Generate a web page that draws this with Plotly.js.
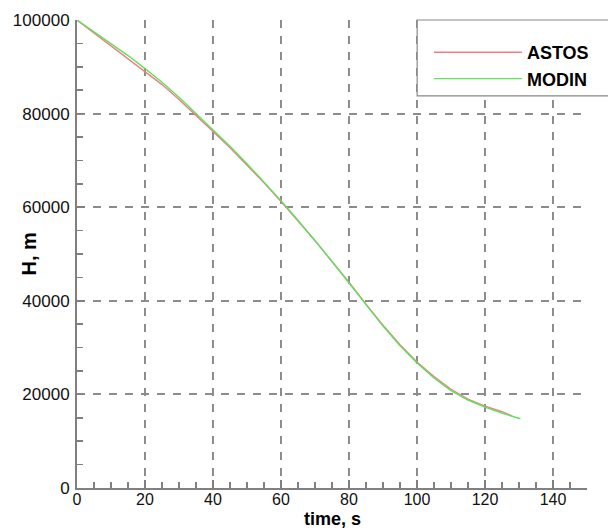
<!DOCTYPE html>
<html>
<head>
<meta charset="utf-8">
<script src="https://cdn.plot.ly/plotly-3.0.1.min.js"></script>
<style>html,body{margin:0;padding:0;background:#fff;}#chart{width:608px;height:530px;}</style>
</head>
<body>
<div id="chart"></div>
<script>
const astosTime = [0,5,10,15,20,25,30,35,40,45,50,55,60,65,70,75,80,85,90,95,100,105,110,115,120,125,128];
const astosH = [100000,97200,94500,91800,89000,86200,83000,79700,76200,72700,69000,65200,61200,57100,52900,48400,44000,39300,34800,30600,26900,23800,21100,19000,17500,16300,15400];
const modinTime = [0,5,10,15,20,25,30,35,40,45,50,55,60,65,70,75,80,85,90,95,100,105,110,115,120,125,130.4];
const modinH = [100000,97500,95000,92400,89600,86700,83500,80000,76600,73000,69300,65400,61400,57200,52900,48400,43800,39200,34600,30400,26700,23500,20800,18800,17300,16000,14800];
const xTicks = [0,20,40,60,80,100,120,140];
const yTicks = [0,20000,40000,60000,80000,100000];
const seriesNames = ['ASTOS','MODIN'];

const FONT = 'Liberation Sans, Arial, Helvetica, sans-serif';
const traces = [
  {x: astosTime, y: astosH, name: seriesNames[0], mode: 'lines', line: {color: '#f08080', width: 1.4}},
  {x: modinTime, y: modinH, name: seriesNames[1], mode: 'lines', line: {color: '#5fe05f', width: 1.4}}
];
const axisCommon = {
  showline: true, linecolor: '#808080', linewidth: 2,
  showgrid: true, gridcolor: '#8c8c8c', gridwidth: 2, griddash: '8px,8px',
  zeroline: false, ticks: 'inside', ticklen: 8, tickcolor: '#808080', tickwidth: 1.5,
  tickfont: {family: FONT, size: 17, color: '#111'}
};
const layout = {
  width: 608, height: 530,
  margin: {l: 77, r: 21, t: 20, b: 42},
  paper_bgcolor: '#fff', plot_bgcolor: '#fff',
  showlegend: true,
  xaxis: Object.assign({}, axisCommon, {
    range: [0, 150], tickmode: 'array', tickvals: xTicks, ticktext: xTicks.map(String),
    ticklabelstandoff: -4, tickfont: {family: FONT, size: 16, color: '#111'},
    minor: {dtick: 5, ticks: 'inside', ticklen: 6, tickcolor: '#808080', tickwidth: 1.5, showgrid: false}
  }),
  yaxis: Object.assign({}, axisCommon, {
    range: [0, 100000], tickmode: 'array', tickvals: yTicks, ticktext: yTicks.map(String),
    ticklabelstandoff: 2,
    minor: {dtick: 5000, ticks: 'inside', ticklen: 6, tickcolor: '#808080', tickwidth: 1.5, showgrid: false}
  }),
  annotations: [
    {text: 'H, m', xref: 'paper', yref: 'paper', x: -0.095, y: 0.5, xanchor: 'center', yanchor: 'middle',
     textangle: -90, showarrow: false, font: {family: FONT, size: 20, color: '#000', weight: 'bold'}},
    {text: 'time, s', xref: 'paper', yref: 'paper', x: 0.5, y: -0.0887, xanchor: 'center', yanchor: 'bottom',
     borderpad: 0, showarrow: false, font: {family: FONT, size: 18, color: '#000', weight: 'bold'}}
  ],
  shapes: [{
    type: 'rect', xref: 'paper', yref: 'paper', x0: 0.667, x1: 1.1, y0: 0.838, y1: 1.0,
    line: {color: '#888', width: 1.2}, fillcolor: '#fff', layer: 'above'
  }],
  legend: {
    x: 0.69, y: 0.97, xanchor: 'left', yanchor: 'top',
    bgcolor: 'rgba(0,0,0,0)', borderwidth: 0, itemwidth: 88,
    font: {family: FONT, size: 18, color: '#000', weight: 'bold'},
    tracegroupgap: 0
  }
};
Plotly.newPlot('chart', traces, layout, {displayModeBar: false, staticPlot: true});
</script>
</body>
</html>
